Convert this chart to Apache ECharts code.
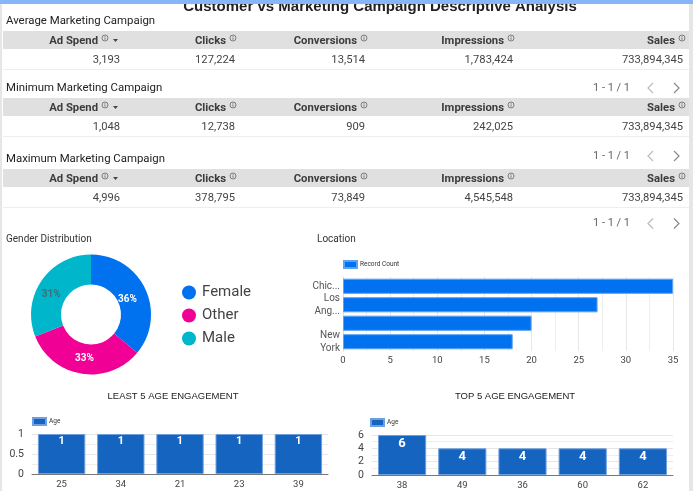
<!DOCTYPE html>
<html><head><meta charset="utf-8">
<style>html,body{margin:0;padding:0;background:#fff;overflow:hidden}#c{width:693px;height:491px}</style>
<script src="https://cdn.jsdelivr.net/npm/echarts@6/dist/echarts.min.js"></script>
</head><body><div id="c"></div>
<script>
const pageTitle = 'Customer vs Marketing Campaign Descriptive Analysis';
const tableColumns = ['Ad Spend','Clicks','Conversions','Impressions','Sales'];
const tableNames = ['Average Marketing Campaign','Minimum Marketing Campaign','Maximum Marketing Campaign'];
const avgRow = ['3,193','127,224','13,514','1,783,424','733,894,345'];
const minRow = ['1,048','12,738','909','242,025','733,894,345'];
const maxRow = ['4,996','378,795','73,849','4,545,548','733,894,345'];
const pagerText = '1 - 1 / 1';

const genderNames = ['Female','Other','Male'];
const genderValues = [36,33,31];
const genderColors = ['#0072f0','#f10096','#00b6cb'];
const genderLabelColors = ['#fff','#fff','#3d6f75'];
const genderLabelOffsets = [[-7,5],[1,-3],[0,7]];

const locationNames = ['Chic...','Los\nAng...','','New\nYork'];
const locationValues = [35,27,20,18];

const leastAges = ['25','34','21','23','39'];
const leastCounts = [1,1,1,1,1];
const topAges = ['38','49','36','60','62'];
const topCounts = [6,4,4,4,4];

const FONT = 'Roboto';
const rows = [avgRow,minRow,maxRow];
const tableHeadY = [31,98,169];
const tableNameY = [21.5,88.5,159.5];
const pagerY = [88,156,223.5];
const headRight = [98,226,357,504,675];
const valueRight = [120,235,365,513,683];
const g = [];

function text(x,y,t,o){ g.push({type:'text',x,y,z:10,silent:true,style:Object.assign({text:t,font:'11px '+FONT,fill:'#333',textAlign:'left',textVerticalAlign:'middle'},o||{})}); }
function infoIcon(x,y){
  g.push({type:'circle',z:10,silent:true,shape:{cx:x,cy:y,r:3},style:{fill:'none',stroke:'#555',lineWidth:0.7}});
  g.push({type:'line',z:10,silent:true,shape:{x1:x,y1:y-0.6,x2:x,y2:y+1.8},style:{stroke:'#555',lineWidth:0.7}});
  g.push({type:'line',z:10,silent:true,shape:{x1:x,y1:y-2,x2:x,y2:y-1.2},style:{stroke:'#555',lineWidth:0.7}});
}
// page chrome
g.push({type:'rect',z:0,silent:true,shape:{x:0,y:0,width:2,height:491},style:{fill:'#e6e6e6'}});
g.push({type:'rect',z:0,silent:true,shape:{x:689,y:0,width:4,height:491},style:{fill:'#e6e6e6'}});
text(380,7,pageTitle,{font:'bold 15px "Liberation Sans"',textAlign:'center',fill:'#222'});
g.push({type:'rect',z:20,silent:true,shape:{x:0,y:0,width:693,height:4},style:{fill:'#8ab4f8'}});

tableNames.forEach((name,i)=>{
  const y = tableHeadY[i];
  text(6,tableNameY[i],name,{font:'11.4px '+FONT,fill:'#222'});
  g.push({type:'rect',z:1,silent:true,shape:{x:3,y,width:686,height:18},style:{fill:'#e0e0e0'}});
  g.push({type:'rect',z:1,silent:true,shape:{x:3,y:y+38,width:686,height:1},style:{fill:'#eeeeee'}});
  tableColumns.forEach((c,j)=>{
    text(headRight[j],y+10,c,{font:'bold 11.3px '+FONT,textAlign:'right',fill:'#3c3c3c'});
    infoIcon(headRight[j]+7,y+7);
    text(valueRight[j],y+29,rows[i][j],{font:'11.2px '+FONT,textAlign:'right',fill:'#444'});
  });
  g.push({type:'polygon',z:10,silent:true,shape:{points:[[113,y+8],[118,y+8],[115.5,y+11]]},style:{fill:'#444'}});
  const py = pagerY[i];
  text(593,py,pagerText,{font:'11px '+FONT,fill:'#666'});
  g.push({type:'polyline',z:10,silent:true,shape:{points:[[653,py-5],[648,py],[653,py+5]]},style:{fill:'none',stroke:'#bbb',lineWidth:1.2}});
  g.push({type:'polyline',z:10,silent:true,shape:{points:[[674,py-5],[679,py],[674,py+5]]},style:{fill:'none',stroke:'#888',lineWidth:1.2}});
});
text(6,239.5,'Gender Distribution',{font:'10px '+FONT,fill:'#333'});
text(317,239.5,'Location',{font:'10px '+FONT,fill:'#333'});
text(173,396,'LEAST 5 AGE ENGAGEMENT',{font:'9.5px "Liberation Sans"',textAlign:'center',fill:'#222'});
text(515,396.5,'TOP 5 AGE ENGAGEMENT',{font:'9.5px "Liberation Sans"',textAlign:'center',fill:'#222'});

const axisText = {fontFamily:FONT,fontSize:9.5,color:'#444'};
const split = {show:true,lineStyle:{color:'#e6e6e6',width:1}};
function valueAxisY(idx,max,interval){
  return {type:'value',gridIndex:idx,min:0,max,interval,axisLine:{show:false},axisTick:{show:false},
    axisLabel:Object.assign({},axisText,{fontSize:10.5,margin:8}),
    splitLine:split,minorTick:{show:false,splitNumber:2},minorSplitLine:{show:true,lineStyle:{color:'#eeeeee'}}};
}
function catX(idx,data){
  return {type:'category',gridIndex:idx,data,axisTick:{show:false},axisLine:{lineStyle:{color:'#777',width:1}},
    axisLabel:Object.assign({},axisText,{margin:6})};
}
function legendStyle(name,left,top){
  return {data:[name],left,top,itemWidth:13,itemHeight:7,padding:0,itemGap:3,
    textStyle:{fontFamily:FONT,fontSize:6.5,color:'#333',padding:[0,0,0,-2]},selectedMode:false,icon:'rect'};
}

const chart = echarts.init(document.getElementById('c'),null,{renderer:'canvas'});
chart.setOption({
  animation:false,
  backgroundColor:'#fff',
  graphic:g,
  legend:[
    {data:genderNames,orient:'vertical',left:182,top:285,icon:'circle',itemWidth:14,itemHeight:14,itemGap:8,padding:0,
      textStyle:{fontFamily:FONT,fontSize:15,color:'#444',padding:[0,0,0,1]},selectedMode:false},
    legendStyle('Record Count',343,260),
    legendStyle('Age',32,417),
    legendStyle('Age ',370,418)
  ],
  grid:[
    {left:343,top:277,width:330,height:74},
    {left:32,top:434,width:296,height:40},
    {left:372,top:435,width:301,height:40}
  ],
  xAxis:[
    {type:'value',gridIndex:0,min:0,max:35,interval:5,axisLine:{show:false},axisTick:{show:false},
      axisLabel:Object.assign({},axisText,{margin:5}),splitLine:split,
      minorTick:{show:false,splitNumber:2},minorSplitLine:{show:true,lineStyle:{color:'#eeeeee'}}},
    catX(1,leastAges),
    catX(2,topAges)
  ],
  yAxis:[
    {type:'category',gridIndex:0,data:locationNames,inverse:true,axisTick:{show:false},
      axisLine:{lineStyle:{color:'#ddd'}},
      axisLabel:Object.assign({},axisText,{fontSize:10,margin:3,lineHeight:13,interval:0,color:'#555'})},
    valueAxisY(1,1,0.5),
    valueAxisY(2,6,2)
  ],
  series:[
    {type:'pie',center:[91,314.5],radius:[30,60],startAngle:90,clockwise:true,
      data:genderNames.map((n,i)=>({name:n,value:genderValues[i],itemStyle:{color:genderColors[i]},
        label:{color:genderLabelColors[i],offset:genderLabelOffsets[i]}})),
      label:{show:true,position:'inside',formatter:'{d}%',fontFamily:FONT,fontSize:10,fontWeight:'bold',
        precision:0},
      labelLine:{show:false},emphasis:{disabled:true}},
    {type:'bar',name:'Record Count',xAxisIndex:0,yAxisIndex:0,data:locationValues,barCategoryGap:'18%',
      itemStyle:{color:'#0072f0',borderColor:'#5aa2f5',borderWidth:1}},
    {type:'bar',name:'Age',xAxisIndex:1,yAxisIndex:1,data:leastCounts,barCategoryGap:'20%',
      itemStyle:{color:'#1565c0',borderColor:'#6f9fdc',borderWidth:1},
      label:{show:true,position:'insideTop',distance:2,color:'#fff',fontFamily:FONT,fontWeight:'bold',fontSize:11}},
    {type:'bar',name:'Age ',xAxisIndex:2,yAxisIndex:2,data:topCounts,barCategoryGap:'20%',
      itemStyle:{color:'#1565c0',borderColor:'#6f9fdc',borderWidth:1},
      label:{show:true,position:'insideTop',distance:2,color:'#fff',fontFamily:FONT,fontWeight:'bold',fontSize:13}}
  ]
});
</script></body></html>
